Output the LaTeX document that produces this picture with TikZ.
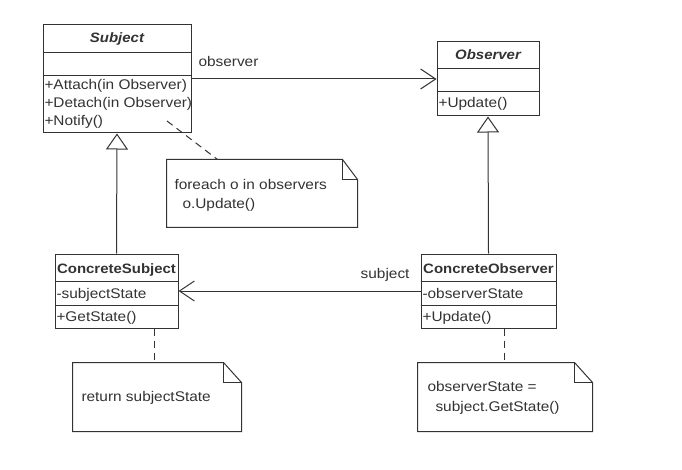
\documentclass[tikz,border=0pt]{standalone}
\usepackage{fontspec}
\setmainfont{Liberation Sans}[FakeStretch=1.1]
\usetikzlibrary{arrows.meta,calc}
\definecolor{ink}{rgb}{0.2,0.2,0.2}
\begin{document}
\begin{tikzpicture}[x=1pt,y=-1pt,line width=1pt,
  cls/.style={draw=ink,fill=white,inner sep=0pt},
  sep/.style={draw=ink},
  txt/.style={anchor=base west,inner sep=0pt,text=ink,font=\fontsize{14}{17}\selectfont},
  ttl/.style={anchor=base,inner sep=0pt,text=ink,font=\fontsize{13.6}{17}\selectfont\bfseries},
  ttlit/.style={anchor=base,inner sep=0pt,text=ink,font=\fontsize{13.6}{17}\selectfont\bfseries\itshape},
  notebox/.style={inner sep=0pt,draw=none},
  noteline/.style={draw=ink},
  assoc/.style={draw=ink,-{Straight Barb[length=15pt,width=20pt,line width=1pt]}},
  inherit/.style={draw=ink,-{Triangle[open,length=16pt,width=22pt,line width=1pt]}},
  notelink/.style={draw=ink,dash pattern=on 7pt off 5pt}]
\useasboundingbox (0,0) rectangle (682,470);
\fill[white] (0,0) rectangle (682,470);

% class boxes
\node[cls,minimum width=148pt,minimum height=108pt] (subj) at (117,79) {};
\node[cls,minimum width=102pt,minimum height=74pt] (obs) at (488,79) {};
\node[cls,minimum width=123pt,minimum height=74pt] (csub) at (116.5,291) {};
\node[cls,minimum width=135pt,minimum height=74pt] (cobs) at (488.5,291) {};

% compartments
\draw[sep] ([yshift=-28pt]subj.north west) -- ([yshift=-28pt]subj.north east);
\draw[sep] ([yshift=-51pt]subj.north west) -- ([yshift=-51pt]subj.north east);
\draw[sep] ([yshift=-27pt]obs.north west) -- ([yshift=-27pt]obs.north east);
\draw[sep] ([yshift=-50pt]obs.north west) -- ([yshift=-50pt]obs.north east);
\draw[sep] ([yshift=-28pt]csub.north west) -- ([yshift=-28pt]csub.north east);
\draw[sep] ([yshift=-52pt]csub.north west) -- ([yshift=-52pt]csub.north east);
\draw[sep] ([yshift=-28pt]cobs.north west) -- ([yshift=-28pt]cobs.north east);
\draw[sep] ([yshift=-52pt]cobs.north west) -- ([yshift=-52pt]cobs.north east);

% class texts
\node[ttlit] (subjname) at (117,43) {Subject};
\node[txt] (subjm1) at (44,90) {+Attach(in Observer)};
\node[txt] (subjm2) at (44,108) {+Detach(in Observer)};
\node[txt] (subjm3) at (44,126) {+Notify()};

\node[ttlit] (obsname) at (488,60) {Observer};
\node[txt] (obsm1) at (438,108) {+Update()};

\node[ttl] (csubname) at (116.5,273) {ConcreteSubject};
\node[txt] (csuba1) at (56,298) {-subjectState};
\node[txt] (csubm1) at (56,321) {+GetState()};

\node[ttl] (cobsname) at (488.5,273) {ConcreteObserver};
\node[txt] (cobsa1) at (422,298) {-observerState};
\node[txt] (cobsm1) at (422,321) {+Update()};

% notes
\node[notebox,minimum width=190pt,minimum height=67pt] (n1) at (262,193.5) {};
\node[notebox,minimum width=168pt,minimum height=68pt] (n2) at (157,397) {};
\node[notebox,minimum width=174pt,minimum height=68pt] (n3) at (505,397) {};

\draw[noteline] (n1.north west) -- ([xshift=-15pt]n1.north east) -- ([yshift=-20pt]n1.north east) -- (n1.south east) -- (n1.south west) -- cycle;
\draw[noteline] ([xshift=-15pt]n1.north east) -- ([xshift=-15pt,yshift=-20pt]n1.north east) -- ([yshift=-20pt]n1.north east);
\draw[noteline] (n2.north west) -- ([xshift=-18pt]n2.north east) -- ([yshift=-20pt]n2.north east) -- (n2.south east) -- (n2.south west) -- cycle;
\draw[noteline] ([xshift=-18pt]n2.north east) -- ([xshift=-18pt,yshift=-20pt]n2.north east) -- ([yshift=-20pt]n2.north east);
\draw[noteline] (n3.north west) -- ([xshift=-18pt]n3.north east) -- ([yshift=-20pt]n3.north east) -- (n3.south east) -- (n3.south west) -- cycle;
\draw[noteline] ([xshift=-18pt]n3.north east) -- ([xshift=-18pt,yshift=-20pt]n3.north east) -- ([yshift=-20pt]n3.north east);

\node[txt] (n1t1) at (174,190) {foreach o in observers};
\node[txt] (n1t2) at (182,209) {o.Update()};
\node[txt] (n2t1) at (81,401) {return subjectState};
\node[txt] (n3t1) at (427,391) {observerState =};
\node[txt] (n3t2) at (435,411) {subject.GetState()};

% connectors
\draw[assoc] (subj.east) -- (obs.west);
\node[txt] (obslabel) at (198,67) {observer};
\draw[assoc] (cobs.west) -- (csub.east);
\node[txt,anchor=base east] (sublabel) at (410,278) {subject};

\draw[inherit] (csub.north) -- (subj.south);
\draw[inherit] (cobs.north) -- (obs.south);

\coordinate (d1) at (167,121);
\draw[notelink] (d1) -- ([xshift=51pt]n1.north west);
\draw[notelink] ([xshift=82pt]n2.north west |- csub.south) -- ([xshift=82pt]n2.north west);
\draw[notelink] ([xshift=87pt]n3.north west |- cobs.south) -- ([xshift=87pt]n3.north west);
\end{tikzpicture}
\end{document}
